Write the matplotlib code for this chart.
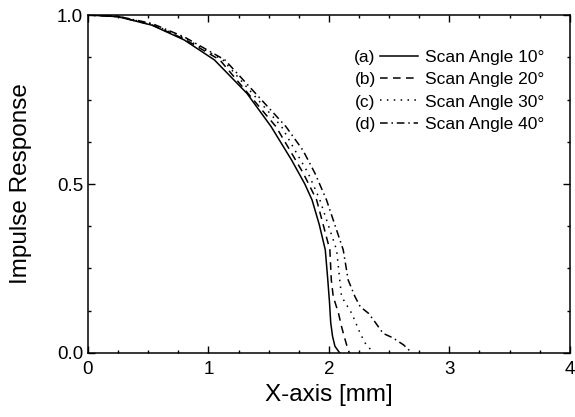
import matplotlib
matplotlib.use("Agg")
import matplotlib.pyplot as plt
from matplotlib.ticker import MultipleLocator

plt.rcParams["font.family"] = ["Liberation Sans", "DejaVu Sans"]

# ─── Data ──────────────────────────────────────────────────────────────────────

x_a = [0, 0.25, 0.53, 0.80, 1.05, 1.32, 1.52, 1.69, 1.80, 1.86, 1.92, 1.97, 1.99, 2.005, 2.015, 2.03, 2.05, 2.09]
y_a = [1.0, 0.995, 0.970, 0.926, 0.867, 0.768, 0.670, 0.571, 0.500, 0.453, 0.380, 0.305, 0.220, 0.150, 0.090, 0.050, 0.020, 0.0]

x_b = [0, 0.25, 0.53, 0.80, 1.095, 1.56, 1.676, 1.787, 1.898, 2.008, 2.02, 2.036, 2.08, 2.105, 2.12, 2.147, 2.17]
y_b = [1.0, 0.995, 0.971, 0.929, 0.867, 0.670, 0.600, 0.532, 0.453, 0.305, 0.216, 0.167, 0.117, 0.078, 0.058, 0.024, 0.0]

x_c = [0, 0.25, 0.53, 0.80, 1.12, 1.607, 1.718, 1.828, 1.925, 2.064, 2.09, 2.105, 2.19, 2.26, 2.30, 2.37]
y_c = [1.0, 0.996, 0.973, 0.932, 0.867, 0.670, 0.600, 0.532, 0.453, 0.305, 0.216, 0.167, 0.117, 0.058, 0.030, 0.0]

x_d = [0, 0.25, 0.53, 0.80, 1.137, 1.643, 1.784, 1.884, 1.98, 2.119, 2.16, 2.216, 2.26, 2.33, 2.37, 2.45, 2.53, 2.62, 2.69]
y_d = [1.0, 0.996, 0.975, 0.935, 0.867, 0.670, 0.600, 0.532, 0.453, 0.305, 0.216, 0.167, 0.137, 0.117, 0.098, 0.058, 0.045, 0.024, 0.0]

tags = ["(a)", "(b)", "(c)", "(d)"]
labels = ["Scan Angle 10°", "Scan Angle 20°", "Scan Angle 30°", "Scan Angle 40°"]

# ─── Plot ──────────────────────────────────────────────────────────────────────

fig = plt.figure(figsize=(5.75, 4.17), dpi=100)
ax = fig.add_axes([0.153, 0.1535, 0.838, 0.8105])

styles = ["-", (0, (5, 3.5)), (0, (1, 3.5)), (0, (5, 2.5, 1, 2.5))]
for (xs, ys), ls, lab in zip([(x_a, y_a), (x_b, y_b), (x_c, y_c), (x_d, y_d)], styles, labels):
    ax.plot(xs, ys, color="black", linestyle=ls, linewidth=1.1, label=lab)

ax.set_xlim(0, 4)
ax.set_ylim(0, 1)
ax.xaxis.set_major_locator(MultipleLocator(1))
ax.xaxis.set_minor_locator(MultipleLocator(0.25))
ax.yaxis.set_major_locator(MultipleLocator(0.5))
ax.yaxis.set_minor_locator(MultipleLocator(0.125))
ax.xaxis.set_major_formatter(plt.FuncFormatter(lambda v, p: f"{v:.0f}"))
ax.yaxis.set_major_formatter(plt.FuncFormatter(lambda v, p: f"{v:.1f}"))
ax.tick_params(which="both", direction="in", top=True, right=True, labelsize=13.5, width=1)
ax.tick_params(which="major", length=5)
ax.tick_params(which="minor", length=2.5)
ax.tick_params(axis="x", pad=6)
for s in ax.spines.values():
    s.set_linewidth(1.1)

ax.set_xlabel("X-axis [mm]", fontsize=17.5, labelpad=4)
ax.set_ylabel("Impulse Response", fontsize=17.5, labelpad=18)

leg = ax.legend(loc="upper left", bbox_to_anchor=(0.606, 0.898), frameon=False,
                fontsize=12.5, handlelength=2.2, handletextpad=0.4,
                labelspacing=0.42, borderpad=0, borderaxespad=0)

fig.canvas.draw()
inv = ax.transAxes.inverted()
for t, txt in zip(tags, leg.get_texts()):
    bb = txt.get_window_extent()
    yc = inv.transform(((bb.x0 + bb.x1) / 2, (bb.y0 + bb.y1) / 2))[1]
    ax.text(0.597, yc, t, transform=ax.transAxes, ha="right", va="center", fontsize=12.5)

fig.savefig("out.png", dpi=100)
